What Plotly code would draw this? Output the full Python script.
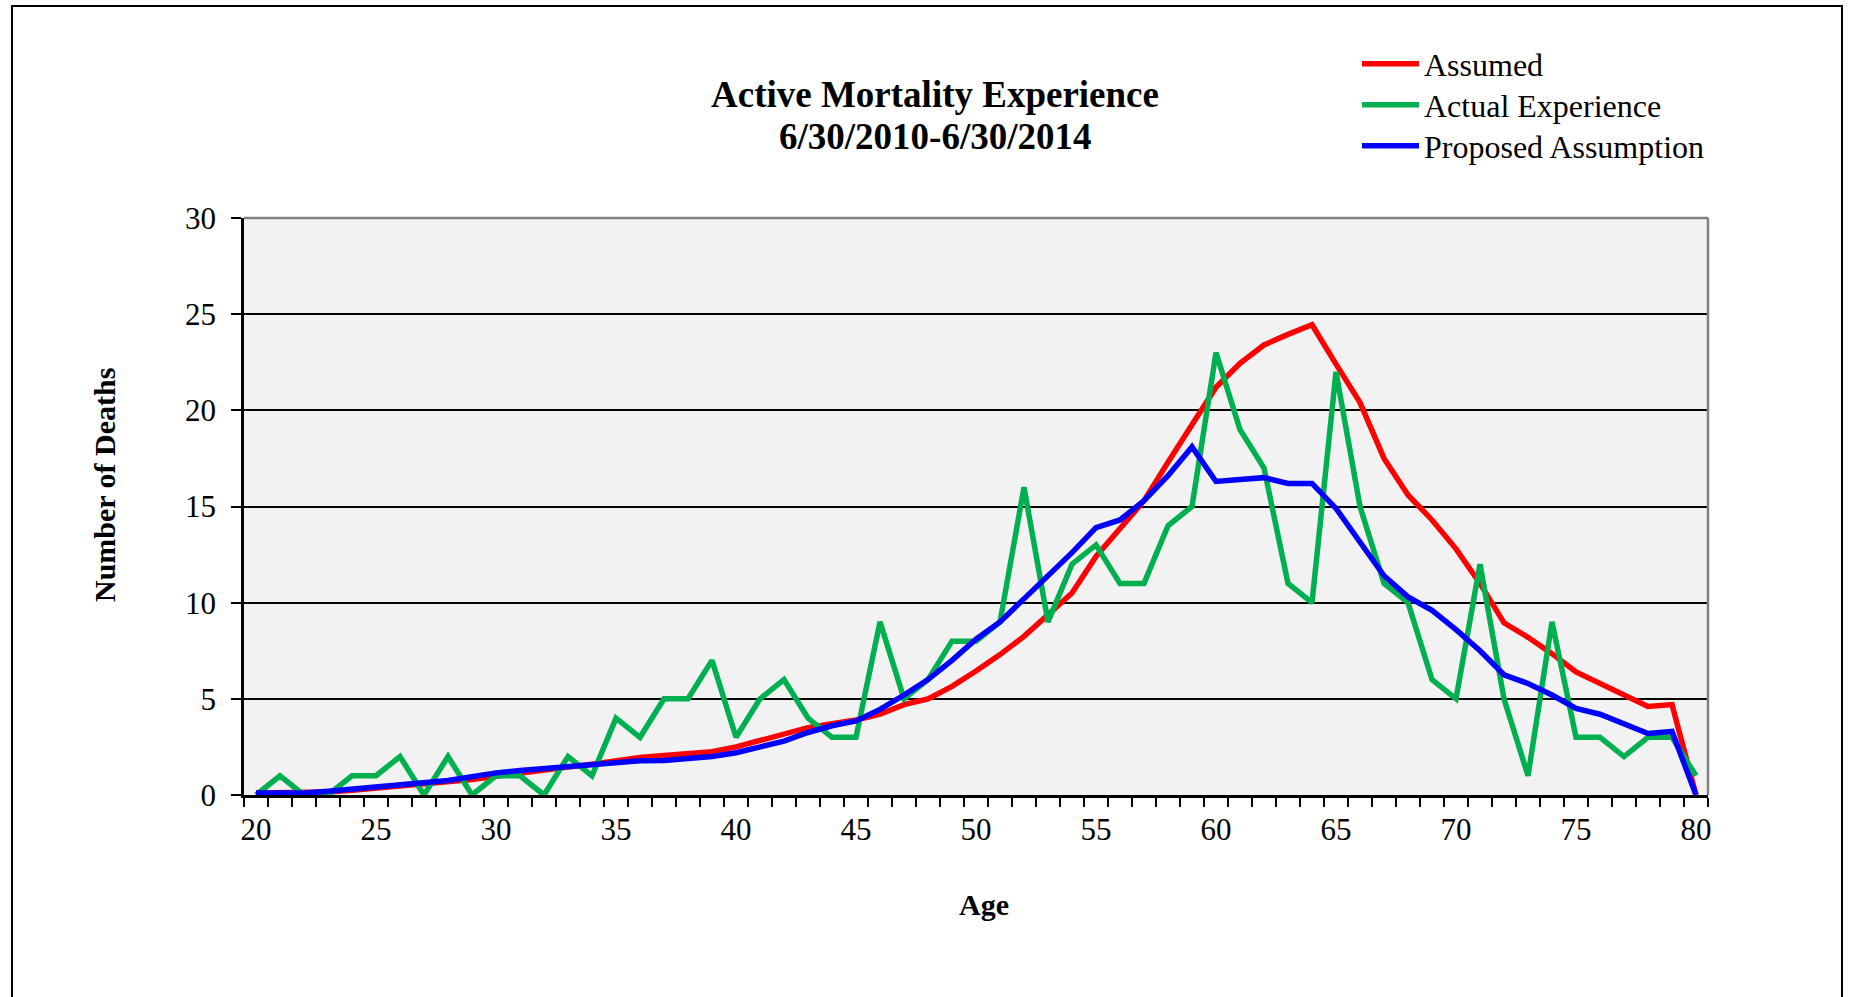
import plotly.graph_objects as go

ages = list(range(20, 81))

assumed = [0.1, 0.1, 0.1, 0.15, 0.25, 0.35, 0.45, 0.55, 0.65, 0.8,
           0.97, 1.15, 1.3, 1.45, 1.6, 1.8, 1.95, 2.05, 2.15, 2.25,
           2.5, 2.85, 3.2, 3.5, 3.7, 3.9, 4.2, 4.7, 5.0, 5.65,
           6.45, 7.3, 8.25, 9.35, 10.5, 12.4, 13.8, 15.3, 17.3, 19.3,
           21.2, 22.45, 23.4, 23.95, 24.45, 22.4, 20.4, 17.5, 15.6, 14.3,
           12.8, 11.0, 8.95, 8.2, 7.35, 6.4, 5.8, 5.2, 4.6, 4.7,
           0.0]

actual = [0, 1, 0, 0, 1, 1, 2, 0, 2, 0,
          1, 1, 0, 2, 1, 4, 3, 5, 5, 7,
          3, 5, 6, 4, 3, 3, 9, 5, 6, 8,
          8, 9, 16, 9, 12, 13, 11, 11, 14, 15,
          23, 19, 17, 11, 10, 22, 15, 11, 10, 6,
          5, 12, 5, 1, 9, 3, 3, 2, 3, 3,
          1]

proposed = [0.1, 0.1, 0.1, 0.2, 0.3, 0.4, 0.55, 0.65, 0.75, 0.95,
            1.15, 1.27, 1.37, 1.47, 1.6, 1.7, 1.78, 1.8, 1.9, 2.0,
            2.2, 2.5, 2.8, 3.25, 3.6, 3.85, 4.45, 5.2, 6.0, 7.0,
            8.1, 9.0, 10.2, 11.4, 12.6, 13.9, 14.3, 15.3, 16.6, 18.1,
            16.3, 16.4, 16.5, 16.2, 16.2, 14.9, 13.1, 11.4, 10.3, 9.6,
            8.6, 7.5, 6.25, 5.8, 5.2, 4.5, 4.2, 3.7, 3.2, 3.3,
            0.0]

series_names = ["Assumed", "Actual Experience", "Proposed Assumption"]
series_colors = ["#FF0000", "#00B050", "#0000FF"]
series_values = [assumed, actual, proposed]

x_tick_vals = list(range(20, 81, 5))
y_tick_vals = list(range(0, 31, 5))

title_line1 = "Active Mortality Experience"
title_line2 = "6/30/2010-6/30/2014"
x_title = "Age"
y_title = "Number of Deaths"

FONT = "Liberation Serif"

# plot area geometry (px)
L, R, T, B = 244, 1708, 218, 795
W, H = 1849, 997
pw, ph = R - L, B - T


def px_x(p):
    return (p - L) / pw


def px_y(p):
    return (B - p) / ph


legend_ids = ["legend", "legend2", "legend3"]
legend_rows_px = [64, 105, 146]

fig = go.Figure()
for name, color, vals, lid in zip(series_names, series_colors, series_values, legend_ids):
    fig.add_trace(go.Scatter(
        x=ages, y=vals, mode="lines", name=name, legend=lid,
        line=dict(color=color, width=5.5),
    ))

shapes = [
    dict(type="line", xref="paper", yref="paper", x0=0, x1=1, y0=1, y1=1,
         line=dict(color="#808080", width=2.5), layer="above"),
    dict(type="line", xref="paper", yref="paper", x0=1, x1=1, y0=0, y1=1,
         line=dict(color="#808080", width=2.5), layer="above"),
    dict(type="rect", xref="paper", yref="paper",
         x0=px_x(12), x1=px_x(1842), y0=px_y(1010), y1=px_y(6),
         line=dict(color="black", width=2), fillcolor="rgba(0,0,0,0)", layer="below"),
]

annotations = [
    dict(text="<b>" + title_line2 + "</b>", xref="paper", yref="paper",
         x=px_x(935), y=px_y(136), xanchor="center", yanchor="middle",
         showarrow=False, font=dict(family=FONT, size=37, color="black")),
    dict(text="<b>" + x_title + "</b>", xref="paper", yref="paper",
         x=px_x(984), y=px_y(904), xanchor="center", yanchor="middle",
         showarrow=False, font=dict(family=FONT, size=30, color="black")),
    dict(text="<b>" + y_title + "</b>", xref="paper", yref="paper",
         x=px_x(104), y=px_y(485), xanchor="center", yanchor="middle",
         textangle=-90, showarrow=False,
         font=dict(family=FONT, size=30, color="black")),
]

legend_style = dict(
    x=px_x(1357), xanchor="left", yanchor="middle",
    font=dict(family=FONT, size=32, color="black"),
    bgcolor="rgba(0,0,0,0)", borderwidth=0, itemwidth=57,
)

fig.update_layout(
    width=W, height=H,
    margin=dict(l=L, r=W - R, t=T, b=H - B, autoexpand=False),
    paper_bgcolor="white",
    plot_bgcolor="#F2F2F2",
    font=dict(family=FONT, color="black", size=30),
    title=dict(
        text="<b>" + title_line1 + "</b>",
        x=935 / W, xanchor="center", xref="container",
        y=1 - 94 / H, yanchor="middle", yref="container",
        font=dict(family=FONT, size=37, color="black"),
    ),
    showlegend=True,
    legend=dict(y=px_y(legend_rows_px[0]), **legend_style),
    legend2=dict(y=px_y(legend_rows_px[1]), **legend_style),
    legend3=dict(y=px_y(legend_rows_px[2]), **legend_style),
    shapes=shapes,
    annotations=annotations,
)

fig.update_xaxes(
    range=[19.5, 80.5],
    tickmode="array", tickvals=x_tick_vals,
    ticks="", ticklabelstandoff=5,
    tickfont=dict(family=FONT, size=31, color="black"),
    showgrid=False, zeroline=False,
    showline=True, linecolor="black", linewidth=2.5,
    minor=dict(tickmode="array", tickvals=[a - 0.5 for a in ages] + [80.5],
               ticks="outside", ticklen=9, tickwidth=2, tickcolor="black",
               showgrid=False),
)

fig.update_yaxes(
    range=[0, 30],
    tickmode="array", tickvals=y_tick_vals,
    ticks="outside", ticklen=10, tickwidth=2, tickcolor="black",
    ticklabelstandoff=9,
    tickfont=dict(family=FONT, size=31, color="black"),
    showgrid=True, gridcolor="black", gridwidth=2,
    zeroline=False,
    showline=True, linecolor="black", linewidth=2.5,
)

fig.write_html("out.html")
